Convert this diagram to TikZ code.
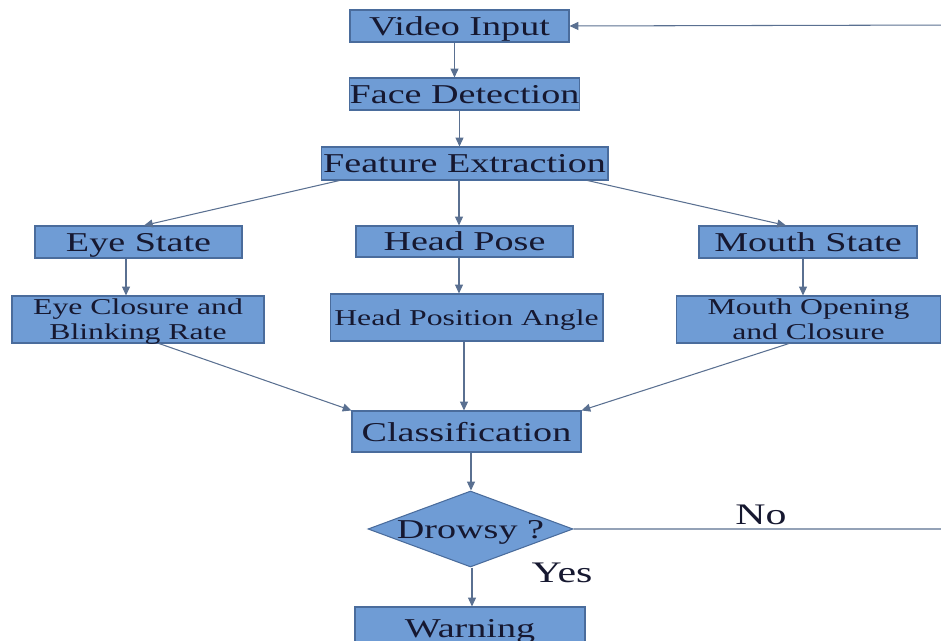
\documentclass[tikz,border=0pt]{standalone}
\usepackage{fontspec}
\setmainfont[FakeStretch=1.4]{Liberation Serif}
\usetikzlibrary{shapes.geometric,arrows.meta}
\definecolor{boxfill}{RGB}{111,156,213}
\definecolor{boxline}{RGB}{74,108,156}
\definecolor{wire}{RGB}{90,112,145}
\definecolor{ink}{RGB}{22,24,48}
\begin{document}
\begin{tikzpicture}[x=0.02cm,y=-0.02cm,
  box/.style={draw=boxline,fill=boxfill,line width=0.6pt,inner sep=0pt,text=ink,
    text depth=0pt,font=\fontsize{15.5}{18}\selectfont},
  smallbox/.style={box,align=center,font=\fontsize{12.9}{14.2}\selectfont},
  twoline/.style={smallbox,text depth=-0.16cm},
  decision/.style={diamond,draw=boxline,fill=boxfill,line width=0.6pt,aspect=2.7,
    inner sep=0pt,text=ink,text depth=0pt,minimum width=4.1cm,minimum height=1.52cm,
    font=\fontsize{15.5}{18}\selectfont},
  arr/.style={draw=wire,line width=0.6pt,-{Triangle[length=5pt,width=4.5pt]}},
  tag/.style={text=ink,font=\fontsize{17}{20}\selectfont}]
\clip (0,0) rectangle (941,641);

% Pipeline
\node[box,minimum width=4.38cm,minimum height=0.64cm] (video) at (459.5,26) {Video Input};
\node[box,minimum width=4.58cm,minimum height=0.64cm] (face) at (464.5,94) {Face Detection};
\node[box,minimum width=5.74cm,minimum height=0.66cm] (feat) at (464.5,163.5) {Feature Extraction};

% Features
\node[box,minimum width=4.14cm,minimum height=0.64cm] (eye) at (138.5,242) {Eye State};
\node[box,minimum width=4.34cm,minimum height=0.62cm] (head) at (464.5,241.5) {Head Pose};
\node[box,minimum width=4.36cm,minimum height=0.64cm] (mouth) at (808,242) {Mouth State};

\node[twoline,minimum width=5.04cm,minimum height=0.94cm] (eyecl) at (138,319.5) {Eye Closure and\\Blinking Rate};
\node[smallbox,minimum width=5.46cm,minimum height=0.94cm] (angle) at (466.5,317.5) {Head Position Angle};
\node[twoline,minimum width=5.30cm,minimum height=0.94cm] (mouthop) at (808.5,319.5) {Mouth Opening\\and Closure};

% Decision
\node[box,minimum width=4.58cm,minimum height=0.82cm] (class) at (466.5,431.5) {Classification};
\node[decision] (drowsy) at (470.5,529) {Drowsy ?};
\node[box,minimum width=4.60cm,minimum height=0.84cm] (warn) at (470,628) {Warning};
\node[tag] (no) at (761,515) {No};
\node[tag] (yes) at (562,573) {Yes};

\coordinate (noend) at (960,529);
\coordinate (back) at (960,25);

% Arrows
\draw[arr] ([xshift=-0.1cm]video.south) -- ([xshift=-0.1cm]video.south |- face.north);
\draw[arr] ([xshift=-0.1cm]face.south) -- ([xshift=-0.1cm]face.south |- feat.north);
\draw[arr] ([xshift=0.38cm]feat.south west) -- ([xshift=0.11cm]eye.north);
\draw[arr] ([xshift=-0.11cm]feat.south) -- ([xshift=-0.11cm]feat.south |- head.north);
\draw[arr] ([xshift=-0.42cm]feat.south east) -- ([xshift=-0.44cm]mouth.north);
\draw[arr] ([xshift=-0.25cm]eye.south) -- ([xshift=-0.25cm]eye.south |- eyecl.north);
\draw[arr] ([xshift=-0.11cm]head.south) -- ([xshift=-0.11cm]head.south |- angle.north);
\draw[arr] ([xshift=-0.1cm]mouth.south) -- ([xshift=-0.1cm]mouth.south |- mouthop.north);
\draw[arr] ([xshift=0.42cm]eyecl.south) -- (class.north west);
\draw[arr] ([xshift=-0.05cm]angle.south) -- ([xshift=-0.05cm]angle.south |- class.north);
\draw[arr] ([xshift=-0.39cm]mouthop.south) -- (class.north east);
\draw[arr] ([xshift=0.09cm]class.south) -- ([xshift=0.09cm]class.south |- drowsy.north);
\draw[arr] ([xshift=0.03cm]drowsy.south) -- ([xshift=0.03cm]drowsy.south |- warn.north);
\draw[arr] (drowsy.east) -- (noend) -- (back) -- (video.east);
\end{tikzpicture}
\end{document}
